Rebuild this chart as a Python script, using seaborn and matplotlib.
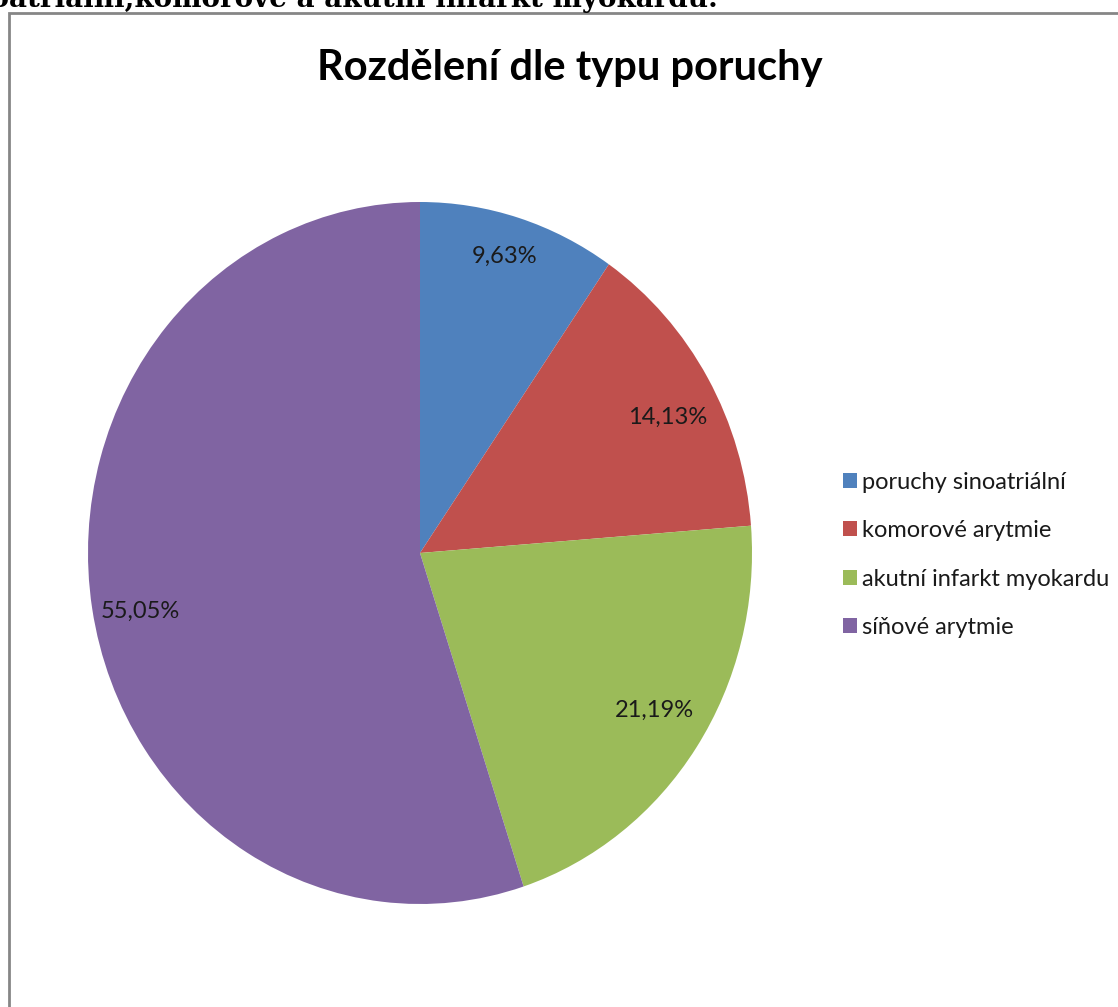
import matplotlib
matplotlib.use("Agg")
import numpy as np
import matplotlib.pyplot as plt
from matplotlib.patches import Rectangle
import seaborn as sns

# Data
categories = ["poruchy sinoatriální", "komorové arytmie",
              "akutní infarkt myokardu", "síňové arytmie"]
shares = [9.63, 14.13, 21.19, 55.05]
colors = ["#4F81BD", "#C0504D", "#9BBB59", "#8064A2"]
title = "Rozdělení dle typu poruchy"
caption = "sinoatriální,komorové a akutní infarkt myokardu."

sns.set_theme(style="white")
plt.rcParams["font.family"] = ["Lato", "DejaVu Sans"]

W, H = 1118, 1007
fig = plt.figure(figsize=(W / 100, H / 100), dpi=100)
fig.patch.set_facecolor("white")

def fx(px):
    return px / W

def fy(py):
    return 1 - py / H

# Pie area (slightly elliptical, as in the spreadsheet export)
left, right, top, bottom = 88, 752, 202, 904
ax = fig.add_axes([fx(left), fy(bottom), (right - left) / W, (bottom - top) / H])

palette = sns.color_palette(colors)
wedges, texts, autotexts = ax.pie(
    shares,
    colors=palette,
    startangle=90,
    counterclock=False,
    autopct=lambda p: f"{p:.2f}%".replace(".", ","),
    pctdistance=0.86,
    wedgeprops=dict(linewidth=0),
    textprops=dict(fontsize=17, color="#1a1a1a"),
)

# Best-fit style placement of the percentage labels:
# radial distance and a small angular shift per slice
label_radius = [0.884, 0.840, 0.835, 0.859]
label_shift = [0.5, -2.6, 1.3, 2.0]
for w, t, r, s in zip(wedges, autotexts, label_radius, label_shift):
    ang = np.deg2rad((w.theta1 + w.theta2) / 2 + s)
    t.set_position((r * np.cos(ang), r * np.sin(ang)))

ax.set_aspect("auto")
ax.set_xlim(-1, 1)
ax.set_ylim(-1, 1)
ax.axis("off")

# Chart title
fig.text(fx(570), fy(80), title, ha="center", va="baseline",
         fontsize=30, fontweight="bold", color="black")

# Legend
leg = fig.legend(
    wedges, categories,
    loc="center left",
    bbox_to_anchor=(fx(843), fy(555)),
    frameon=False,
    fontsize=17,
    handlelength=0.6,
    handleheight=0.6,
    handletextpad=0.22,
    labelspacing=1.16,
    borderpad=0,
    borderaxespad=0,
)
for t in leg.get_texts():
    t.set_color("#1a1a1a")

# Chart frame
fig.patches.append(Rectangle((fx(9), -0.1), 2, fy(13) + 0.1,
                             transform=fig.transFigure, fill=False,
                             edgecolor="#868686", linewidth=2))

# Document text above the chart
fig.text(fx(718), fy(7), caption, ha="right", va="baseline",
         fontsize=20, fontweight="bold", family=["DejaVu Serif"], color="black")

fig.savefig("out.png", dpi=100, facecolor="white")
